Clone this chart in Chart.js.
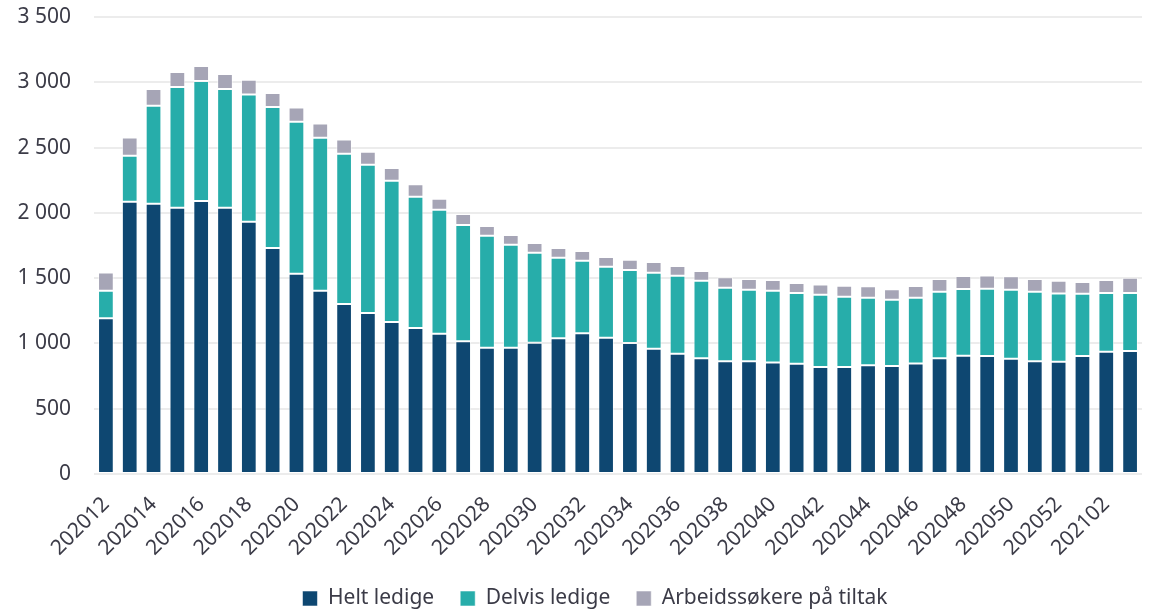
<!DOCTYPE html>
<html>
<head>
<meta charset="utf-8">
<script src="https://cdn.jsdelivr.net/npm/chart.js@4/dist/chart.umd.min.js"></script>
<style>
  html, body { margin: 0; padding: 0; background: #ffffff; }
  #wrap { width: 1152px; height: 614px; position: relative; }
</style>
</head>
<body>
<div id="wrap"><canvas id="c" width="1152" height="614"></canvas></div>
<script>
const weeks = ['202012','202013','202014','202015','202016','202017','202018','202019','202020','202021',
  '202022','202023','202024','202025','202026','202027','202028','202029','202030','202031',
  '202032','202033','202034','202035','202036','202037','202038','202039','202040','202041',
  '202042','202043','202044','202045','202046','202047','202048','202049','202050','202051',
  '202052','202101','202102','202103'];

const heltLedige = [1192, 2085, 2070, 2039, 2090, 2039, 1932, 1730, 1534, 1404,
  1302, 1233, 1164, 1118, 1074, 1016, 967, 967, 1006, 1039,
  1077, 1044, 1003, 960, 921, 886, 863, 863, 853, 845,
  819, 819, 832, 827, 847, 886, 906, 903, 883, 863,
  860, 903, 937, 942];

const delvisLedige = [212, 352, 750, 924, 919, 909, 975, 1080, 1164, 1171,
  1151, 1135, 1082, 1005, 950, 891, 858, 789, 689, 617,
  556, 544, 559, 581, 597, 594, 564, 548, 550, 542,
  553, 539, 518, 508, 503, 510, 511, 516, 528, 533,
  523, 478, 450, 445];

const tiltak = [140, 141, 128, 115, 115, 115, 112, 107, 109, 110,
  109, 100, 97, 97, 84, 84, 74, 74, 74, 74,
  75, 74, 79, 82, 75, 74, 79, 82, 82, 75,
  80, 84, 87, 79, 90, 97, 99, 102, 103, 97,
  97, 89, 98, 116];

const seriesNames = ['Helt ledige', 'Delvis ledige', 'Arbeidssøkere på tiltak'];
const yTicks = [0, 500, 1000, 1500, 2000, 2500, 3000, 3500];

const fmt = v => String(v).replace(/\B(?=(\d{3})+(?!\d))/g, ' ');
const textColor = '#3b3b47';
const fontFamily = "'Noto Sans', 'Open Sans', sans-serif";
const FS = 21;

const barStyle = { borderColor: 'rgba(255,255,255,0.55)', borderWidth: 1, borderSkipped: false,
  categoryPercentage: 1.0, barPercentage: 0.66 };

const legendFix = {
  id: 'legendFix',
  beforeInit(chart) {
    const lg = chart.legend;
    if (lg && !lg._fitPatched) {
      const orig = lg.fit.bind(lg);
      lg.fit = function() { orig(); this.height = 52; };
      lg._fitPatched = true;
    }
  },
  afterLayout(chart) {
    if (chart.legend) { chart.legend.left += 48; }
  }
};

new Chart(document.getElementById('c'), {
  type: 'bar',
  data: {
    labels: weeks,
    datasets: [
      Object.assign({ label: seriesNames[0], data: heltLedige, backgroundColor: '#0e4771' }, barStyle),
      Object.assign({ label: seriesNames[1], data: delvisLedige, backgroundColor: '#27adaa' }, barStyle),
      Object.assign({ label: seriesNames[2], data: tiltak, backgroundColor: '#a6a5b6' }, barStyle)
    ]
  },
  plugins: [legendFix],
  options: {
    responsive: false,
    animation: false,
    devicePixelRatio: 1,
    layout: { padding: { top: 17, right: 10, left: 0, bottom: 0 } },
    plugins: {
      tooltip: { enabled: false },
      legend: {
        position: 'bottom',
        labels: {
          color: textColor,
          font: { family: fontFamily, size: FS },
          boxWidth: 15, boxHeight: 15, padding: 26, useBorderRadius: false
        }
      }
    },
    scales: {
      x: {
        stacked: true,
        grid: { display: false },
        border: { display: false },
        afterFit: s => { s.height = 88; s.paddingLeft = 0; s.paddingRight = 0; },
        ticks: {
          autoSkip: false,
          maxRotation: 45, minRotation: 45,
          color: textColor,
          font: { family: fontFamily, size: FS },
          padding: 10,
          callback: function(v, i) { return i % 2 === 0 ? weeks[i] : ''; }
        }
      },
      y: {
        stacked: true,
        min: 0, max: 3500,
        afterBuildTicks: s => { s.ticks = yTicks.map(v => ({ value: v })); },
        afterFit: s => { s.width = 94; s.paddingTop = 0; },
        grid: { color: '#ececec', lineWidth: 2, drawTicks: false },
        border: { display: false },
        ticks: {
          color: textColor,
          font: { family: fontFamily, size: FS },
          padding: 23,
          callback: v => fmt(v)
        }
      }
    }
  }
});
</script>
</body>
</html>
